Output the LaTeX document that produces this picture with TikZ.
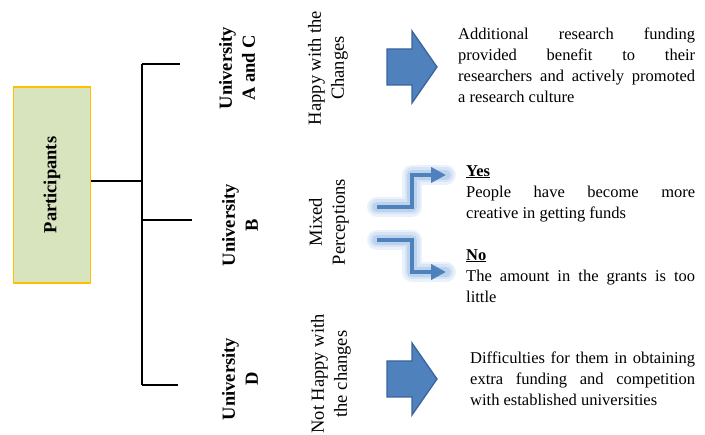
\documentclass[tikz,border=0pt]{standalone}
\usepackage{fontspec}
\usepackage{graphicx}
\setmainfont{Liberation Serif}
\usetikzlibrary{arrows.meta}
\definecolor{boxgreen}{HTML}{D7E4BD}
\definecolor{boxgold}{HTML}{FFC000}
\definecolor{arrowblue}{HTML}{4F81BD}
\definecolor{arrowedge}{HTML}{3A64A0}
\definecolor{glowblue}{HTML}{8DB3E2}

\begin{document}
\begin{tikzpicture}[x=1pt, y=1pt,
	side/.style={rotate=90, align=center, inner sep=0pt, font=\fontsize{18.5}{23}\selectfont},
	uni/.style={side, font=\fontsize{18.5}{23}\selectfont\bfseries},
	note/.style={anchor=north west, inner sep=0pt, align=justify, font=\fontsize{16.5}{21}\selectfont},
	branch/.style={line width=2pt},
	stepline/.style={arrowblue, line width=4.5pt, -{Triangle[length=15pt,width=15pt]}},
	glow/.style={glowblue, line cap=round, line join=round, opacity=#1}]
\useasboundingbox (0,0) rectangle (705,-435);
\node[draw=boxgold, fill=boxgreen, line width=1.2pt, minimum width=77pt,
	minimum height=196pt] (part) at (52,-185)
	{\rotatebox{90}{\fontsize{18.5}{23}\selectfont\bfseries Participants}};
% tree
\coordinate (jp) at (142,-181);
\coordinate (jt) at (142,-64);
\coordinate (jm) at (142,-220);
\coordinate (jb) at (142,-385);
\coordinate (et) at (180,-64);
\coordinate (em) at (192,-220);
\coordinate (eb) at (178,-385);
\draw[branch] (part.east |- jp) -- (jp);
\draw[branch] (jt) -- (jb);
\draw[branch] (jt) -- (et) (jm) -- (em) (jb) -- (eb);
% labels
\node[uni] (uac) at (237,-68) {University\\A and C};
\node[uni] (ub) at (240,-225) {University\\B};
\node[uni] (ud) at (240,-379) {University\\D};
\node[side] (happy) at (328,-68) {Happy with the\\Changes};
\node[side] (mixed) at (329,-222) {Mixed\\Perceptions};
\node[side] (nothappy) at (331,-374) {Not Happy with\\the changes};
% block arrows
\foreach \y in {67, 379} \filldraw[fill=arrowblue, draw=arrowedge, line width=1.3pt]
	(387,-\y+18) -- (412,-\y+18) -- (412,-\y+36) -- (437,-\y)
	-- (412,-\y-36) -- (412,-\y-18) -- (387,-\y-18) -- cycle;
% step arrows
\coordinate (ys) at (377,-207);
\coordinate (ye) at (446,-175);
\coordinate (ns) at (377,-240);
\coordinate (ne) at (446,-272);
\foreach \w/\o in {20/0.18, 15/0.22, 10/0.35} \draw[glow=\o, line width=\w pt]
	(ys) -- ++(35,0) |- (ye)
	(ns) -- ++(35,0) |- (ne);
\draw[stepline] (ys) -- ++(35,0) |- (ye);
\draw[stepline] (ns) -- ++(35,0) |- (ne);
% texts
\node[note, text width=237pt] (tac) at (458,-28)
	{Additional research funding\linebreak provided benefit to their\linebreak
	researchers and actively promoted\linebreak a research culture};
\node[note, text width=229pt] (tyes) at (466,-165)
	{\underline{\textbf{Yes}}\\ People have become more\linebreak creative in getting funds};
\node[note, text width=229pt] (tno) at (466,-249)
	{\underline{\textbf{No}}\\ The amount in the grants is too\linebreak little};
\node[note, text width=225pt] (td) at (470,-352)
	{Difficulties for them in obtaining\linebreak extra funding and competition\linebreak
	with established universities};
\end{tikzpicture}
\end{document}
